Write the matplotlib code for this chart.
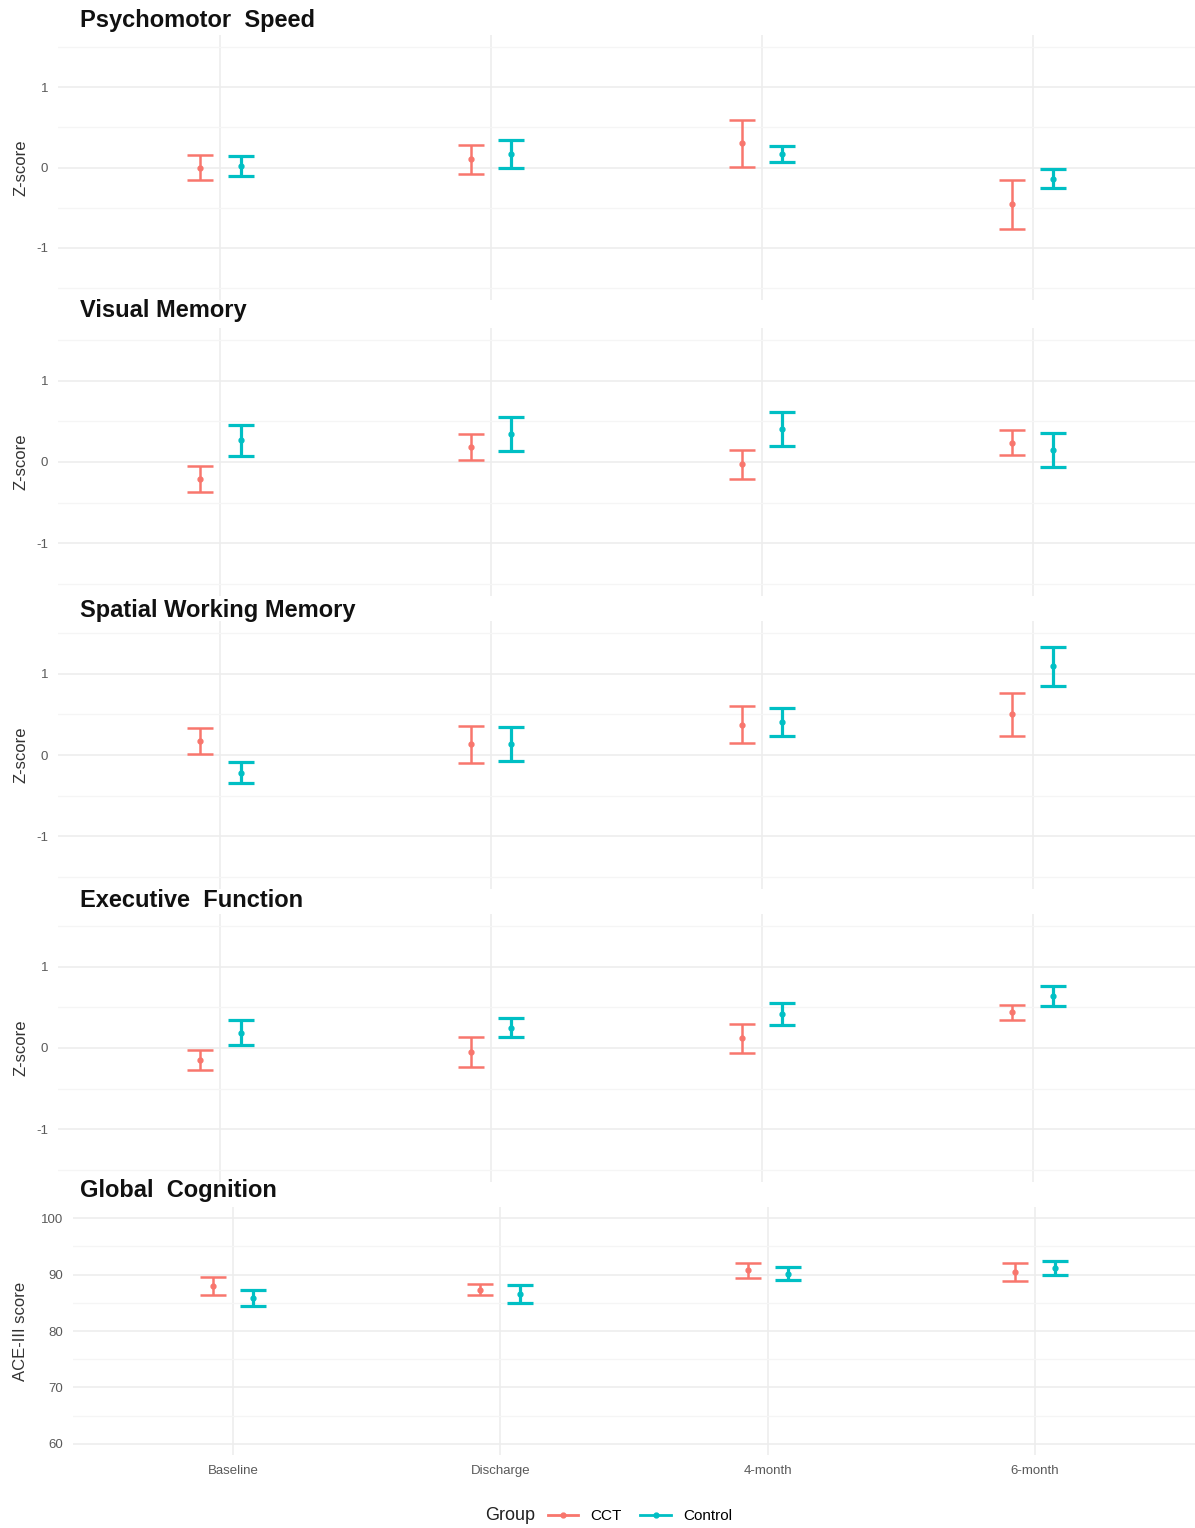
import numpy as np
import matplotlib
matplotlib.use("Agg")
import matplotlib.pyplot as plt
from matplotlib.lines import Line2D

plt.rcParams['font.family'] = ['Liberation Sans', 'DejaVu Sans']
plt.rcParams['axes.unicode_minus'] = False

timepoints = ["Baseline", "Discharge", "4-month", "6-month"]
groups = ["CCT", "Control"]
colors = ["#F8766D", "#00BFC4"]

# Psychomotor Speed (z-score)
psych_cct = [0.00, 0.10, 0.30, -0.46]
psych_cct_err = [0.16, 0.18, 0.29, 0.30]
psych_ctl = [0.02, 0.17, 0.17, -0.14]
psych_ctl_err = [0.12, 0.17, 0.10, 0.12]

# Visual Memory
vis_cct = [-0.21, 0.19, -0.03, 0.24]
vis_cct_err = [0.16, 0.16, 0.18, 0.15]
vis_ctl = [0.27, 0.34, 0.41, 0.15]
vis_ctl_err = [0.19, 0.21, 0.21, 0.21]

# Spatial Working Memory
swm_cct = [0.17, 0.13, 0.375, 0.50]
swm_cct_err = [0.16, 0.225, 0.23, 0.26]
swm_ctl = [-0.22, 0.13, 0.41, 1.09]
swm_ctl_err = [0.13, 0.21, 0.17, 0.24]

# Executive Function
exe_cct = [-0.145, -0.05, 0.12, 0.44]
exe_cct_err = [0.12, 0.18, 0.18, 0.095]
exe_ctl = [0.19, 0.25, 0.42, 0.64]
exe_ctl_err = [0.15, 0.12, 0.135, 0.12]

# Global Cognition (ACE-III)
ace_cct = [87.9, 87.3, 90.8, 90.4]
ace_cct_err = [1.6, 1.0, 1.35, 1.6]
ace_ctl = [85.9, 86.6, 90.2, 91.2]
ace_ctl_err = [1.4, 1.6, 1.1, 1.25]

W, H = 1195, 1528
fig = plt.figure(figsize=(W / 100, H / 100), dpi=100)

panels = [
    ("Psychomotor  Speed", psych_cct, psych_cct_err, psych_ctl, psych_ctl_err, "Z-score", 35, 300, 58, 20),
    ("Visual Memory", vis_cct, vis_cct_err, vis_ctl, vis_ctl_err, "Z-score", 328, 596, 58, 310),
    ("Spatial Working Memory", swm_cct, swm_cct_err, swm_ctl, swm_ctl_err, "Z-score", 621, 889, 58, 610),
    ("Executive  Function", exe_cct, exe_cct_err, exe_ctl, exe_ctl_err, "Z-score", 914, 1182, 58, 900),
    ("Global  Cognition", ace_cct, ace_cct_err, ace_ctl, ace_ctl_err, "ACE-III score", 1207, 1455, 73, 1190),
]

x = np.arange(1, len(timepoints) + 1)
dodge = 0.075

for i, (title, m1, e1, m2, e2, ylab, top, bot, left, ty) in enumerate(panels):
    ax = fig.add_axes([left / W, 1 - bot / H, (W - left) / W, (bot - top) / H])
    last = i == len(panels) - 1
    for k, (m, e) in enumerate([(m1, e1), (m2, e2)]):
        ax.errorbar(x + (k * 2 - 1) * dodge, m, yerr=e, fmt='o', color=colors[k],
                    ms=3.5, elinewidth=1.8 + 0.5 * k, capsize=9.5,
                    capthick=1.8 + 0.5 * k, zorder=3)
    ax.set_xlim(0.4, 4.6)
    if last:
        ax.set_ylim(58, 102)
        ax.set_yticks([60, 70, 80, 90, 100])
        ax.set_yticks([65, 75, 85, 95], minor=True)
        ax.set_xticks(x)
        ax.set_xticklabels(timepoints)
    else:
        ax.set_ylim(-1.65, 1.65)
        ax.set_yticks([-1, 0, 1])
        ax.set_yticks([-1.5, -0.5, 0.5, 1.5], minor=True)
        ax.set_xticks(x)
        ax.set_xticklabels([])
    ax.grid(which='major', color='#EDEDED', lw=1.2)
    ax.grid(which='minor', axis='y', color='#F5F5F5', lw=1.0)
    ax.set_axisbelow(True)
    for s in ax.spines.values():
        s.set_visible(False)
    ax.tick_params(which='both', length=0, labelsize=9.5, colors='#5A5A5A', pad=7)
    ax.set_ylabel(ylab, fontsize=12, color='#333333')
    ax.yaxis.set_label_coords(-(left - 28) / (W - left), 0.5)
    fig.text(80 / W, 1 - ty / H, title, fontsize=17, fontweight='bold',
             ha='left', va='center', color='#111111')

handles = [Line2D([0], [0], color=c, marker='o', ms=3.5, lw=2) for c in colors]
fig.text(510 / W, 1 - 1516 / H, "Group", fontsize=13, ha='center', va='center', color='#222222')
fig.legend(handles, groups, ncol=2, loc='center', bbox_to_anchor=(640 / W, 1 - 1516 / H),
           frameon=False, fontsize=11, handlelength=2.0, columnspacing=1.2, handletextpad=0.8)

fig.savefig("out.png", dpi=100, facecolor='white')
